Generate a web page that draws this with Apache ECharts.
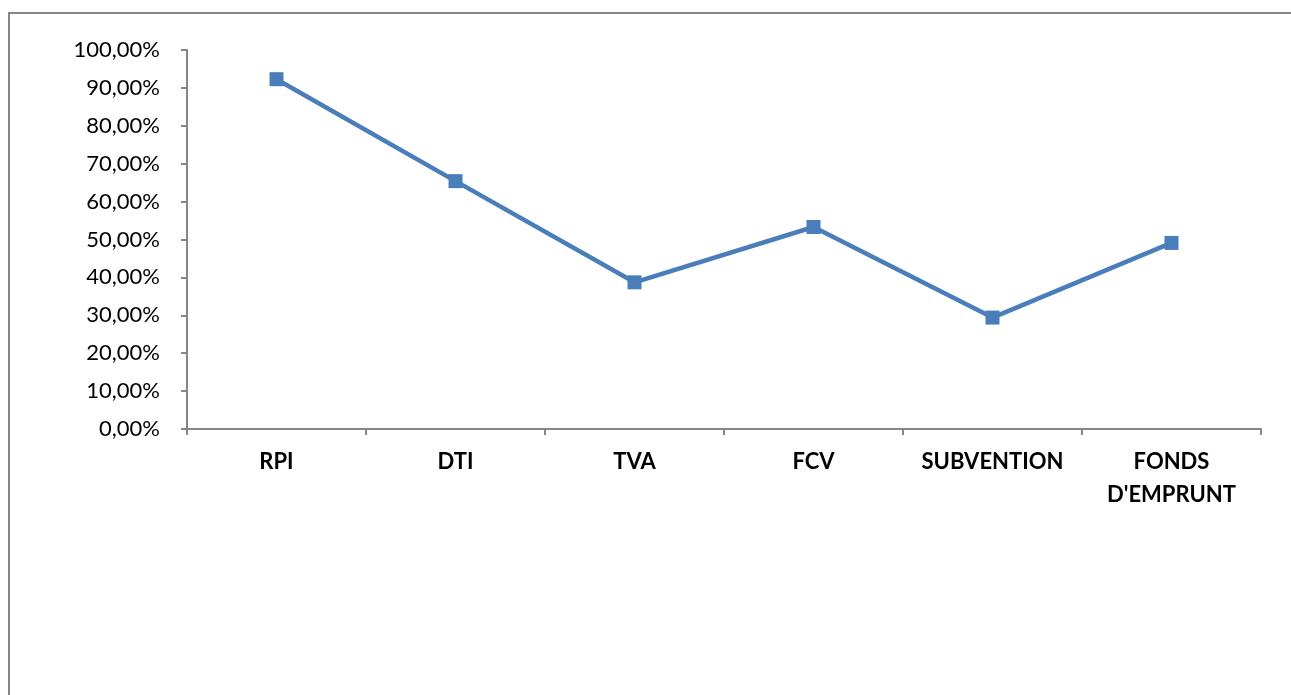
<!DOCTYPE html>
<html>
<head>
<meta charset="utf-8">
<script src="https://cdn.jsdelivr.net/npm/echarts@6/dist/echarts.min.js"></script>
<style>
  html, body { margin: 0; padding: 0; background: #fff; }
  #chart { width: 1291px; height: 695px; }
</style>
</head>
<body>
<div id="chart"></div>
<script>
// categories et valeurs (en %)
const categories = ['RPI', 'DTI', 'TVA', 'FCV', 'SUBVENTION', "FONDS\nD'EMPRUNT"];
const values = [92.3, 65.4, 38.7, 53.3, 29.4, 49.1];
const yTicks = { min: 0, max: 100, interval: 10 };

const lineColor = '#4A7EBB';
const axisColor = '#868686';

let myChart = echarts.init(document.getElementById('chart'));
myChart.setOption({
  animation: false,
  backgroundColor: '#fff',
  graphic: [{
    type: 'rect',
    shape: { x: 9, y: 13, width: 1400, height: 800 },
    style: { fill: 'none', stroke: axisColor, lineWidth: 2 },
    silent: true
  }],
  grid: { left: 187, right: 30, top: 50, bottom: 266 },
  xAxis: {
    type: 'category',
    data: categories,
    boundaryGap: true,
    axisLine: { lineStyle: { color: axisColor, width: 2 } },
    axisTick: { show: true, length: 6, alignWithLabel: false, lineStyle: { color: axisColor, width: 2 } },
    axisLabel: {
      color: '#000', fontFamily: 'Lato', fontWeight: 'bold', fontSize: 22,
      margin: 16, lineHeight: 33, interval: 0
    },
    splitLine: { show: false }
  },
  yAxis: {
    type: 'value',
    min: yTicks.min, max: yTicks.max, interval: yTicks.interval,
    axisLine: { show: true, lineStyle: { color: axisColor, width: 2 } },
    axisTick: { show: true, length: 6, lineStyle: { color: axisColor, width: 2 } },
    axisLabel: {
      color: '#000', fontFamily: 'Lato', fontSize: 22, margin: 27,
      formatter: v => v.toFixed(2).replace('.', ',') + '%'
    },
    splitLine: { show: false }
  },
  series: [{
    type: 'line',
    data: values,
    symbol: 'rect',
    symbolSize: 14,
    itemStyle: { color: lineColor },
    lineStyle: { color: lineColor, width: 4.5 }
  }]
});
</script>
</body>
</html>
